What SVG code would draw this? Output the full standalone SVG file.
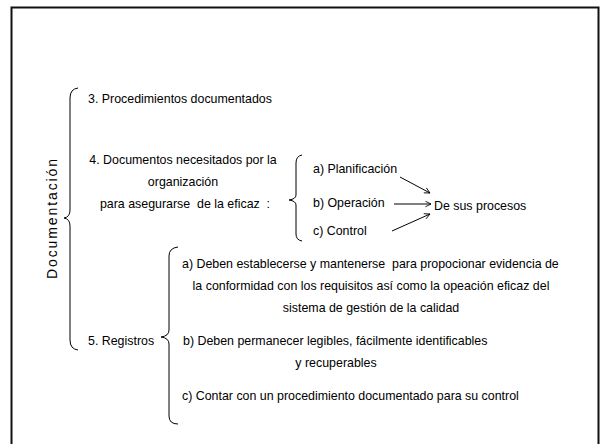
<svg xmlns="http://www.w3.org/2000/svg" width="600" height="444" viewBox="0 0 600 444" xml:space="preserve">
  <defs>
    <style>
      .t { font-family: "Liberation Sans", Arial, sans-serif; font-size: 12.4px; fill: #000; white-space: pre; }
      .c { text-anchor: middle; }
      .brace { fill: none; stroke: #000; stroke-width: 1; }
      .arrow { fill: none; stroke: #000; stroke-width: 1; marker-end: url(#open); }
    </style>
    <marker id="open" viewBox="0 0 10 10" refX="9" refY="5" markerWidth="7" markerHeight="7" markerUnits="userSpaceOnUse" orient="auto">
      <path d="M1,1 L9,5 L1,9" fill="none" stroke="#000" stroke-width="1.2"/>
    </marker>
  </defs>

  <rect width="600" height="444" fill="#fff"/>
  <!-- slide frame (open at the bottom) -->
  <path d="M11.5,444 V7.5 H598.5 V444" fill="none" stroke="#111" stroke-width="2"/>

  <g id="documentacion">
    <text class="t" transform="translate(57,218) rotate(-90)" text-anchor="middle" style="font-size:14px;letter-spacing:1.9px">Documentación</text>
    <path class="brace" d="M78,88 Q70,89 70,98 V210 Q70,217 64,218 Q70,219 70,226 V340 Q70,349 78,350"/>
  </g>

  <g id="procedimientos">
    <text class="t" x="88" y="103">3. Procedimientos documentados</text>
  </g>

  <g id="documentos">
    <text class="t c" x="183" y="164">4. Documentos necesitados por la</text>
    <text class="t c" x="183" y="186">organización</text>
    <text class="t c" x="185" y="208">para asegurarse  de la eficaz  :</text>
    <path class="brace" d="M302,155 Q296,156 296,163 V195 Q296,199 289,200 Q296,201 296,205 V234 Q296,240 302,241"/>
  </g>

  <g id="planificacion">
    <text class="t" x="313" y="173">a) Planificación</text>
  </g>
  <g id="operacion">
    <text class="t" x="313" y="207">b) Operación</text>
  </g>
  <g id="control">
    <text class="t" x="313" y="235">c) Control</text>
  </g>
  <g id="procesos">
    <text class="t" x="434" y="210">De sus procesos</text>
  </g>

  <g id="registros">
    <text class="t" x="88" y="345">5. Registros</text>
    <path class="brace" d="M178,247 Q169,248 169,256 V330 Q169,336 161,337 Q169,338 169,344 V416 Q169,424 178,424"/>
  </g>

  <g id="registros-a">
    <text class="t" x="182" y="268">a) Deben establecerse y mantenerse  para propocionar evidencia de</text>
    <text class="t c" x="371" y="290">la conformidad con los requisitos así como la opeación eficaz del</text>
    <text class="t c" x="371" y="312">sistema de gestión de la calidad</text>
  </g>
  <g id="registros-b">
    <text class="t" x="183" y="345">b) Deben permanecer legibles, fácilmente identificables</text>
    <text class="t c" x="336" y="367">y recuperables</text>
  </g>
  <g id="registros-c">
    <text class="t" x="182" y="400">c) Contar con un procedimiento documentado para su control</text>
  </g>

  <g id="connectors">
    <path class="arrow" d="M400,177 L430,193"/>
    <path class="arrow" d="M394,204 L431,204"/>
    <path class="arrow" d="M392,231 L430,214"/>
  </g>
</svg>
